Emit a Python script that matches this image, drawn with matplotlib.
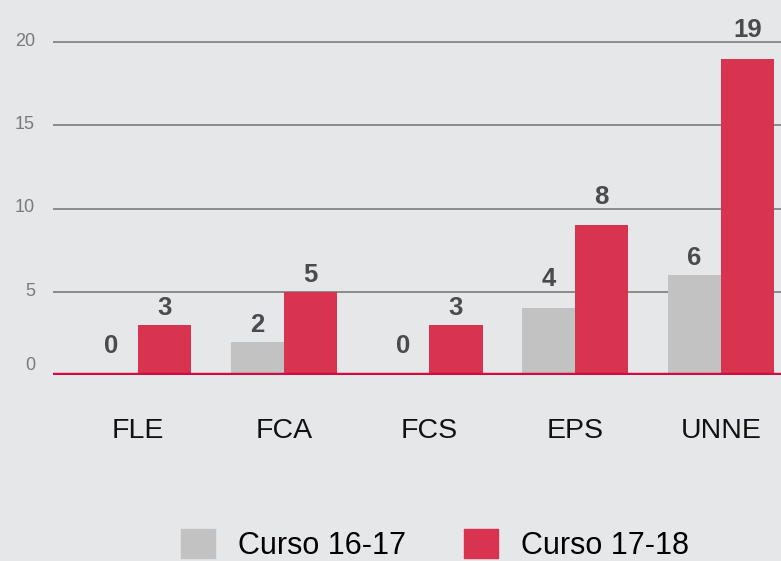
import matplotlib
matplotlib.use("Agg")
import matplotlib.pyplot as plt
import matplotlib.transforms as mtransforms
from matplotlib import font_manager
from matplotlib.patches import Patch
import numpy as np

# data
categories = ["FLE", "FCA", "FCS", "EPS", "UNNE"]
curso_1617 = [0, 2, 0, 4, 6]
curso_1718 = [3, 5, 3, 9, 19]
# printed labels (the EPS bar is drawn at 9 but labelled 8)
labels_1617 = ["0", "2", "0", "4", "6"]
labels_1718 = ["3", "5", "3", "8", "19"]
series_names = ["Curso 16-17", "Curso 17-18"]
yticks = [0, 5, 10, 15, 20]

# gap between bar top and label, in points
gap_1617 = [16, 7, 16, 16, 7]
gap_1718 = [7, 7, 7, 15, 16]

bg = "#e6e7e9"
gray = "#c1c2c1"
red = "#d83450"

names = {f.name for f in font_manager.fontManager.ttflist}
narrow = "Liberation Sans Narrow" if "Liberation Sans Narrow" in names else "Liberation Sans"
plt.rcParams["font.family"] = ["Liberation Sans", "DejaVu Sans"]

fig = plt.figure(figsize=(7.81, 5.61), dpi=100, facecolor=bg)
ax = fig.add_axes([53 / 781, 186 / 561, 1 - 53 / 781, (375 - 9) / 561])
ax.set_facecolor(bg)

x = np.arange(len(categories))
w = 0.364
b1 = ax.bar(x - w / 2, curso_1617, w, color=gray, zorder=2)
b2 = ax.bar(x + w / 2, curso_1718, w, color=red, zorder=2)

for bars, labs, gaps in [(b1, labels_1617, gap_1617), (b2, labels_1718, gap_1718)]:
    for rect, lab, g in zip(bars, labs, gaps):
        ax.annotate(lab, (rect.get_x() + rect.get_width() / 2, rect.get_height()),
                    xytext=(0, g), textcoords="offset points", ha="center",
                    va="baseline", fontsize=18.5, fontweight="bold",
                    color="#4a4b4d", family=narrow, zorder=3)

ax.set_xlim(-0.583, 4.412)
ax.set_ylim(0, 22)
ax.set_yticks(yticks)
ax.set_yticklabels([str(t) for t in yticks])
for t in yticks[1:]:
    ax.axhline(t, color="#7b7b7b", lw=1.2, zorder=1)
ax.axhline(0, color="#d20a40", lw=3.2, zorder=4)

ax.set_xticks(x)
ax.set_xticklabels(categories)
ax.tick_params(axis="x", length=0, pad=31, labelsize=20.5, labelcolor="#111111")
ax.tick_params(axis="y", length=0, pad=13, labelsize=13, labelcolor="#7a7a7a")
for s in ax.spines.values():
    s.set_visible(False)

for i, lab in enumerate(ax.get_yticklabels()):
    off = mtransforms.ScaledTranslation(0, (8 if i == 0 else 2) / 72, fig.dpi_scale_trans)
    lab.set_transform(lab.get_transform() + off)

handles = [Patch(color=gray), Patch(color=red)]
fig.legend(handles, series_names, loc="center", bbox_to_anchor=(435 / 781, 1 - 545 / 561),
           ncol=2, frameon=False, fontsize=22, handlelength=1.1, handleheight=1.1,
           handletextpad=0.75, columnspacing=1.9, borderaxespad=0)

fig.savefig("out.png", dpi=100, facecolor=bg)
